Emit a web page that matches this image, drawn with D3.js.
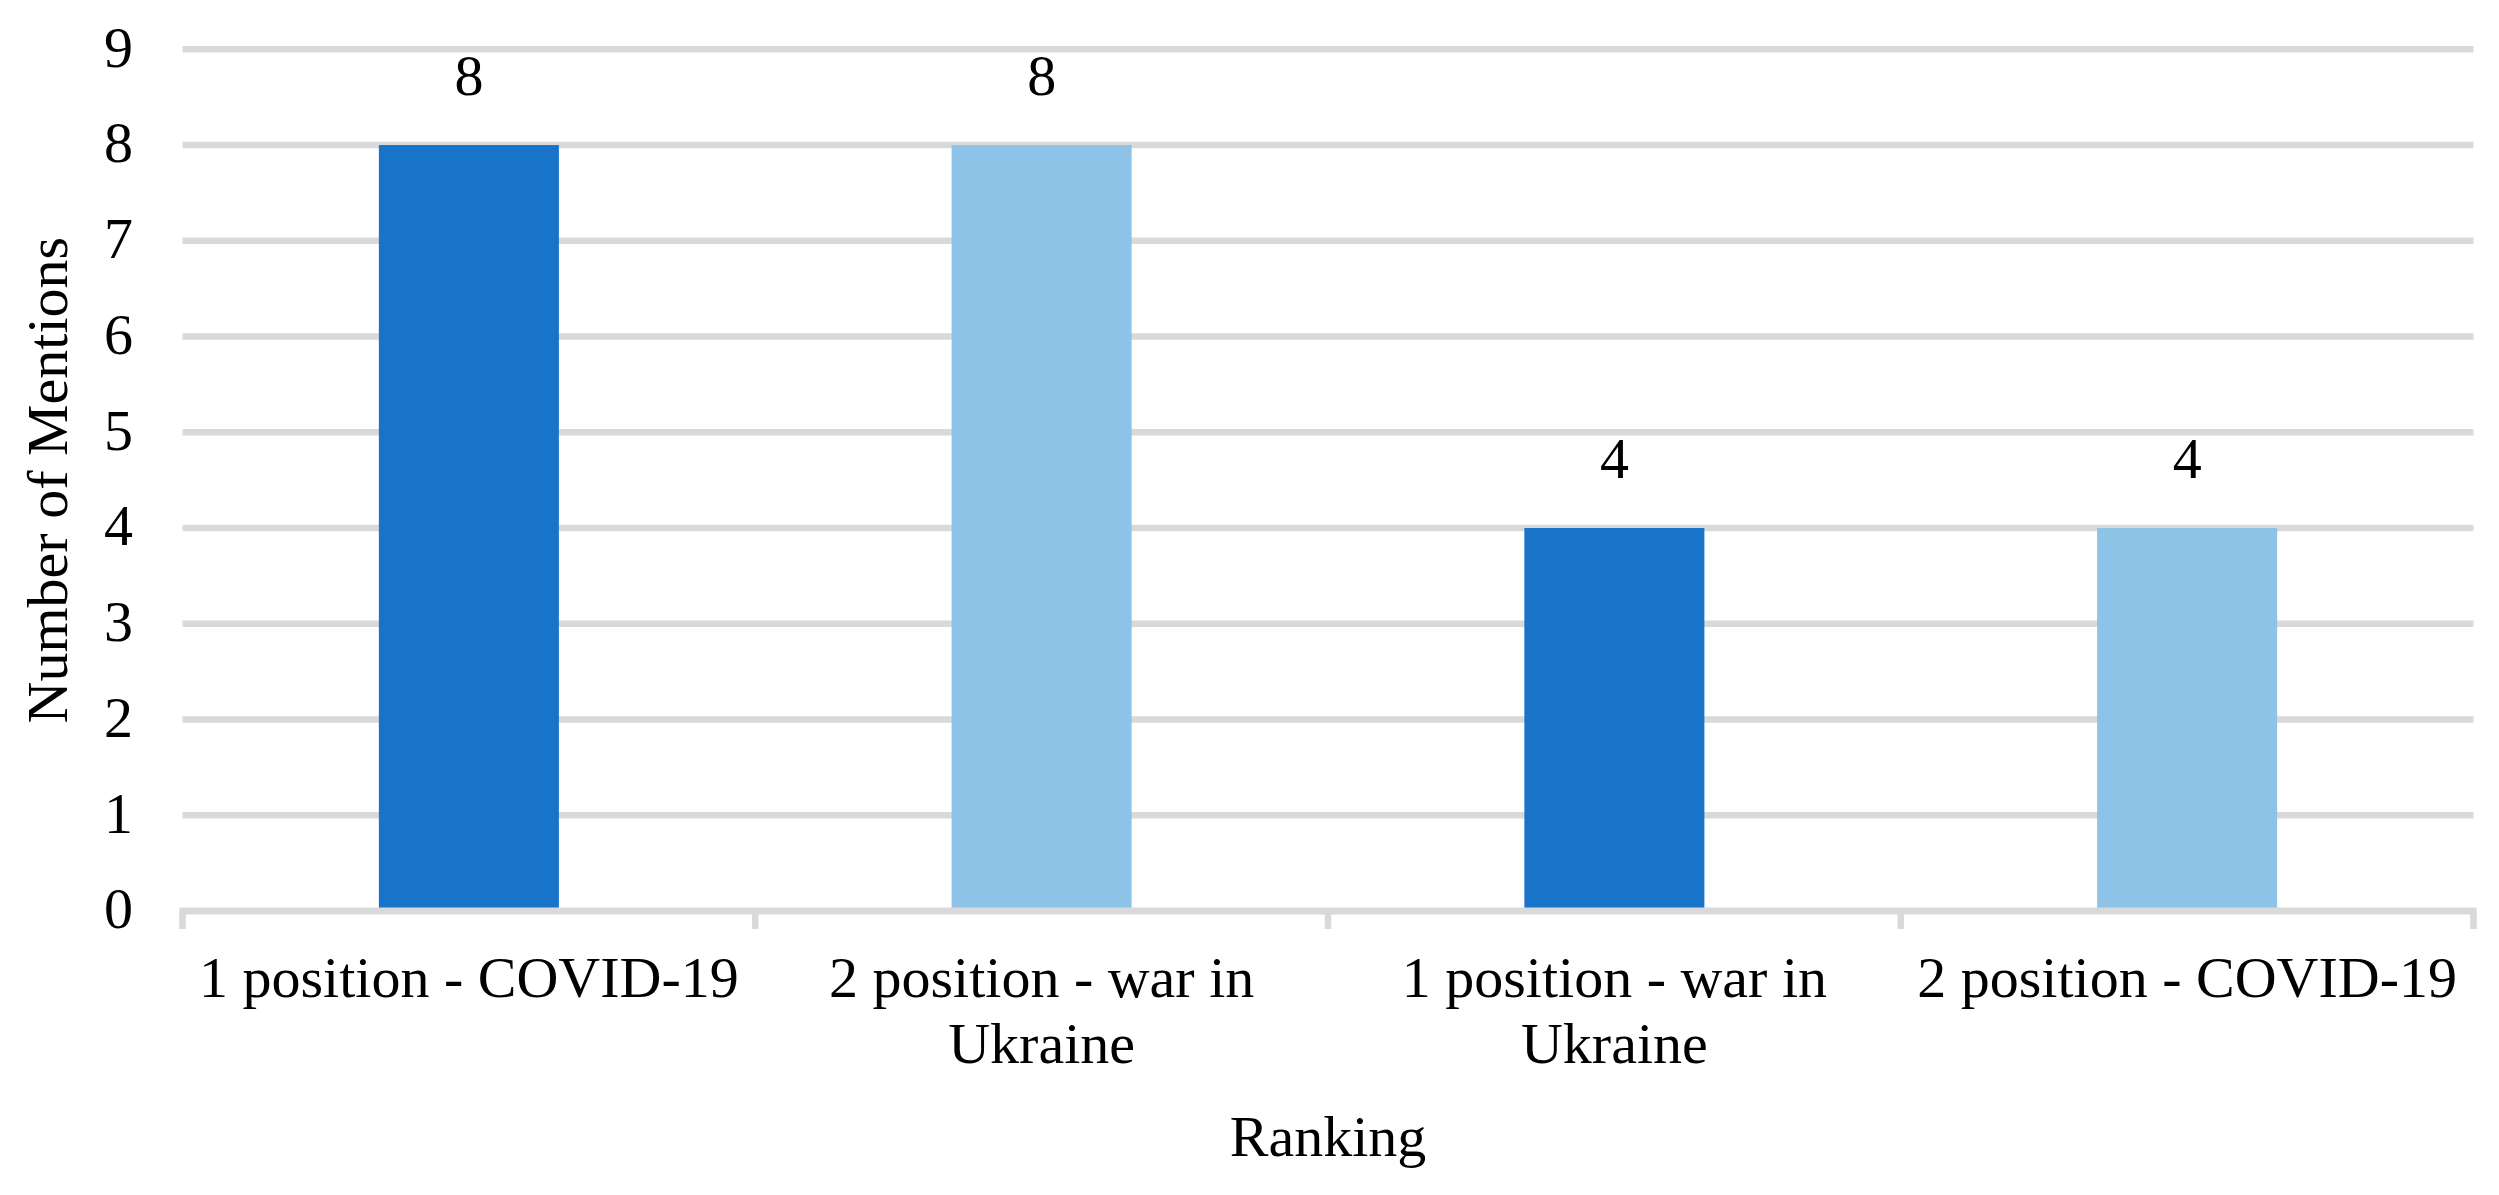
<!DOCTYPE html>
<html>
<head>
<meta charset="utf-8">
<script src="https://cdn.jsdelivr.net/npm/d3@7"></script>
<style>
  html, body { margin: 0; padding: 0; background: #ffffff; }
  svg { display: block; }
  text { font-family: "Liberation Serif", "Times New Roman", serif; fill: #000; }
</style>
</head>
<body>
<svg id="chart" width="2499" height="1195"></svg>
<script>
// ---- data ----
const categories = [
  "1 position - COVID-19",
  "2 position - war in Ukraine",
  "1 position - war in Ukraine",
  "2 position - COVID-19"
];
const values = [8, 8, 4, 4];
const barColors = ["#1874c9", "#8dc3e6", "#1874c9", "#8dc3e6"];
const yTicks = [0, 1, 2, 3, 4, 5, 6, 7, 8, 9];
const xTitle = "Ranking";
const yTitle = "Number of Mentions";

(function () {
// ---- layout ----
const plotLeft = 182.5, plotRight = 2473.5, plotTop = 49.3, plotBottom = 911;
const fontSize = 58;
const gridColor = "#d9d9d9";

const svg = d3.select("#chart");

const x = d3.scaleBand().domain(categories).range([plotLeft, plotRight]).padding(0);
const barFrac = 0.3143;
const y = d3.scaleLinear().domain([0, 9]).range([plotBottom, plotTop]);

// gridlines
svg.append("g").selectAll("line")
  .data(yTicks.filter(d => d > 0))
  .join("line")
  .attr("x1", plotLeft).attr("x2", plotRight)
  .attr("y1", d => y(d)).attr("y2", d => y(d))
  .attr("stroke", gridColor).attr("stroke-width", 6.5);

// bars
svg.append("g").selectAll("rect")
  .data(categories)
  .join("rect")
  .attr("x", (d) => x(d) + x.bandwidth() * (1 - barFrac) / 2)
  .attr("width", x.bandwidth() * barFrac)
  .attr("y", (d, i) => y(values[i]))
  .attr("height", (d, i) => y(0) - y(values[i]))
  .attr("fill", (d, i) => barColors[i]);

// x axis line + ticks at band boundaries
const bounds = categories.map(c => x(c)).concat([x(categories[categories.length - 1]) + x.bandwidth()]);
const axisG = svg.append("g");
axisG.append("line")
  .attr("x1", plotLeft - 3).attr("x2", plotRight + 3)
  .attr("y1", y(0)).attr("y2", y(0))
  .attr("stroke", gridColor).attr("stroke-width", 7);
axisG.selectAll("line.tick")
  .data(bounds)
  .join("line")
  .attr("class", "tick")
  .attr("x1", d => d).attr("x2", d => d)
  .attr("y1", y(0)).attr("y2", y(0) + 18)
  .attr("stroke", gridColor).attr("stroke-width", 6.5);

// y tick labels
svg.append("g").selectAll("text")
  .data(yTicks)
  .join("text")
  .attr("x", 133)
  .attr("y", d => y(d))
  .attr("dy", "0.3em")
  .attr("text-anchor", "end")
  .style("font-size", fontSize + "px")
  .text(d => d);

// value labels
svg.append("g").selectAll("text")
  .data(categories)
  .join("text")
  .attr("x", d => x(d) + x.bandwidth() / 2)
  .attr("y", (d, i) => y(values[i]) - 50)
  .attr("text-anchor", "middle")
  .style("font-size", fontSize + "px")
  .text((d, i) => values[i]);

// x category labels with wrapping
const maxW = x.bandwidth() - 20;
const xl = svg.append("g");
categories.forEach(c => {
  const cx = x(c) + x.bandwidth() / 2;
  const t = xl.append("text")
    .attr("x", cx)
    .attr("y", 997)
    .attr("text-anchor", "middle")
    .style("font-size", fontSize + "px");
  const words = c.split(" ");
  let line = [];
  let lineNo = 0;
  let tspan = t.append("tspan").attr("x", cx).attr("y", 997);
  words.forEach(w => {
    line.push(w);
    tspan.text(line.join(" "));
    if (tspan.node().getComputedTextLength() > maxW && line.length > 1) {
      line.pop();
      tspan.text(line.join(" "));
      line = [w];
      lineNo++;
      tspan = t.append("tspan")
        .attr("x", cx)
        .attr("y", 997 + lineNo * 66)
        .text(w);
    }
  });
});

// axis titles
svg.append("text")
  .attr("x", (plotLeft + plotRight) / 2)
  .attr("y", 1156)
  .attr("text-anchor", "middle")
  .style("font-size", fontSize + "px")
  .text(xTitle);

svg.append("text")
  .attr("transform", `translate(67, ${(plotTop + plotBottom) / 2}) rotate(-90)`)
  .attr("text-anchor", "middle")
  .style("font-size", fontSize + "px")
  .text(yTitle);
})();
</script>
</body>
</html>
